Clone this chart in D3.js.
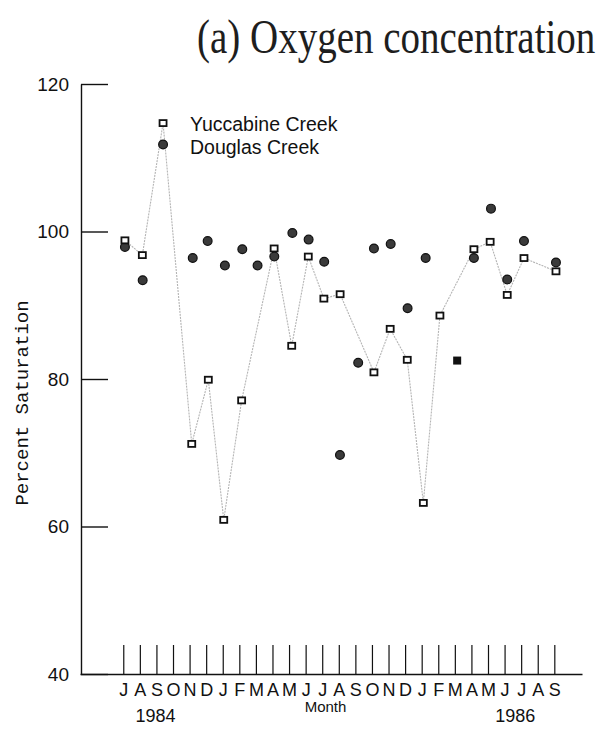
<!DOCTYPE html>
<html>
<head>
<meta charset="utf-8">
<script src="https://cdn.jsdelivr.net/npm/d3@7"></script>
<style>
  html, body { margin: 0; padding: 0; background: #fff; }
  svg { display: block; }
</style>
</head>
<body>
<div id="chart"></div>
<script>
// Month letters along the time axis, July 1984 through September 1986
const monthLabels = ["J","A","S","O","N","D","J","F","M","A","M","J",
                     "J","A","S","O","N","D","J","F","M","A","M","J",
                     "J","A","S"];
const yTicks = [40, 60, 80, 100, 120];

// Sampling time in months after 1 July 1984, and percent saturation
const yuccabineMonth = [0.1, 1.15, 2.4, 4.13, 5.13, 6.06, 7.14, 9.1, 10.16, 11.16,
                        12.1, 13.08, 15.12, 16.1, 17.13, 18.1, 19.1, 21.15, 22.13,
                        23.16, 24.17, 26.1];
const yuccabineSat   = [98.8, 96.8, 114.7, 71.2, 79.9, 60.9, 77.1, 97.7, 84.5, 96.6,
                        90.9, 91.5, 80.9, 86.8, 82.6, 63.2, 88.6, 97.6, 98.6,
                        91.4, 96.4, 94.6];

const douglasMonth = [0.1, 1.17, 2.4, 4.19, 5.09, 6.13, 7.18, 8.1, 9.11, 10.2,
                      11.18, 12.12, 13.07, 14.17, 15.12, 16.13, 17.15, 18.24,
                      21.15, 22.18, 23.16, 24.17, 26.1];
const douglasSat   = [97.9, 93.4, 111.8, 96.4, 98.7, 95.4, 97.6, 95.4, 96.6, 99.8,
                      98.9, 95.9, 69.7, 82.2, 97.7, 98.3, 89.6, 96.4,
                      96.4, 103.1, 93.5, 98.7, 95.8];

// Douglas Creek reading for March 1986, plotted as a solid square
const douglasSquareMonth = [20.14];
const douglasSquareSat   = [82.5];

const yearLabels = [{ text: "1984", month: 1.95 }, { text: "1986", month: 23.65 }];
const legendLabels = ["Yuccabine Creek", "Douglas Creek"];

const W = 605, H = 738;
const svg = d3.select("#chart").append("svg")
  .attr("width", W).attr("height", H)
  .style("background", "#fff");

const x = d3.scaleLinear().domain([-2.61, 27.67]).range([80, 582]);
const y = d3.scaleLinear().domain([40, 120]).range([674, 84]);

const sansFont = "'Liberation Sans', Arial, sans-serif";
const monoFont = "'Liberation Mono', 'DejaVu Sans Mono', monospace";

// Title: serif lettering stretched tall
svg.append("text")
  .attr("transform", "translate(197,53) scale(1,1.25)")
  .style("font-family", "'Liberation Serif', 'Times New Roman', serif")
  .style("font-size", "39px")
  .style("fill", "#1e1e1e")
  .text("(a) Oxygen concentration");

// Y axis: ticks point inward
const yAxis = svg.append("g")
  .attr("transform", `translate(${x(-2.55)},0)`)
  .call(d3.axisLeft(y).tickValues(yTicks).tickSizeInner(-27).tickSizeOuter(0).tickPadding(12));
yAxis.select(".domain").attr("stroke", "#111").attr("stroke-width", 1.4);
yAxis.selectAll(".tick line").attr("stroke", "#111").attr("stroke-width", 1.4);
yAxis.selectAll(".tick text")
  .style("font-family", sansFont).style("font-size", "19px").style("fill", "#111");

// X axis: month ticks rise from the baseline
const xAxis = svg.append("g")
  .attr("transform", `translate(0,${y(40)})`)
  .call(d3.axisBottom(x).tickValues(d3.range(monthLabels.length))
    .tickFormat(i => monthLabels[i]).tickSizeInner(-29).tickSizeOuter(0).tickPadding(9));
xAxis.select(".domain").attr("stroke", "#111").attr("stroke-width", 1.4);
xAxis.selectAll(".tick line").attr("stroke", "#111").attr("stroke-width", 1.2);
xAxis.selectAll(".tick text")
  .style("font-family", sansFont).style("font-size", "18px").style("fill", "#111");

// Year labels and axis title
svg.selectAll("text.year").data(yearLabels).enter().append("text")
  .attr("class", "year")
  .attr("x", d => x(d.month)).attr("y", 722)
  .attr("text-anchor", "middle")
  .style("font-family", sansFont).style("font-size", "18px").style("fill", "#111")
  .text(d => d.text);

svg.append("text")
  .attr("x", x(12.2)).attr("y", 712)
  .attr("text-anchor", "middle")
  .style("font-family", sansFont).style("font-size", "15px").style("fill", "#111")
  .text("Month");

svg.append("text")
  .attr("transform", `translate(28,${(y(40) + y(120)) / 2 + 24}) rotate(-90)`)
  .attr("text-anchor", "middle")
  .style("font-family", monoFont)
  .style("font-size", "19px").style("fill", "#111")
  .text("Percent Saturation");

// Legend
svg.selectAll("text.legend").data(legendLabels).enter().append("text")
  .attr("class", "legend")
  .attr("x", 190).attr("y", (d, i) => 131 + i * 23)
  .style("font-family", sansFont).style("font-size", "19.5px").style("fill", "#111")
  .text(d => d);

// Yuccabine Creek: faint connecting line
const yucca = yuccabineMonth.map((m, i) => ({ m, v: yuccabineSat[i] }));
const line = d3.line().x(d => x(d.m)).y(d => y(d.v));
svg.append("path")
  .datum(yucca)
  .attr("d", line)
  .attr("fill", "none")
  .attr("stroke", "#b4b4b4")
  .attr("stroke-width", 1.1)
  .attr("stroke-dasharray", "2,1");

// Douglas Creek: filled circles
const douglas = douglasMonth.map((m, i) => ({ m, v: douglasSat[i] }));
svg.selectAll("circle.douglas").data(douglas).enter().append("circle")
  .attr("class", "douglas")
  .attr("cx", d => x(d.m)).attr("cy", d => y(d.v))
  .attr("r", 4.4)
  .attr("fill", "#3a3a3a")
  .attr("stroke", "#111").attr("stroke-width", 1.2);

const dSquare = douglasSquareMonth.map((m, i) => ({ m, v: douglasSquareSat[i] }));
svg.selectAll("rect.dsq").data(dSquare).enter().append("rect")
  .attr("class", "dsq")
  .attr("x", d => x(d.m) - 4).attr("y", d => y(d.v) - 4)
  .attr("width", 8).attr("height", 8)
  .attr("fill", "#111");

// Yuccabine Creek: open squares
svg.selectAll("rect.yucca").data(yucca).enter().append("rect")
  .attr("class", "yucca")
  .attr("x", d => x(d.m) - 3.5).attr("y", d => y(d.v) - 3)
  .attr("width", 7).attr("height", 6)
  .attr("fill", "#fff")
  .attr("stroke", "#111").attr("stroke-width", 1.8);
</script>
</body>
</html>
